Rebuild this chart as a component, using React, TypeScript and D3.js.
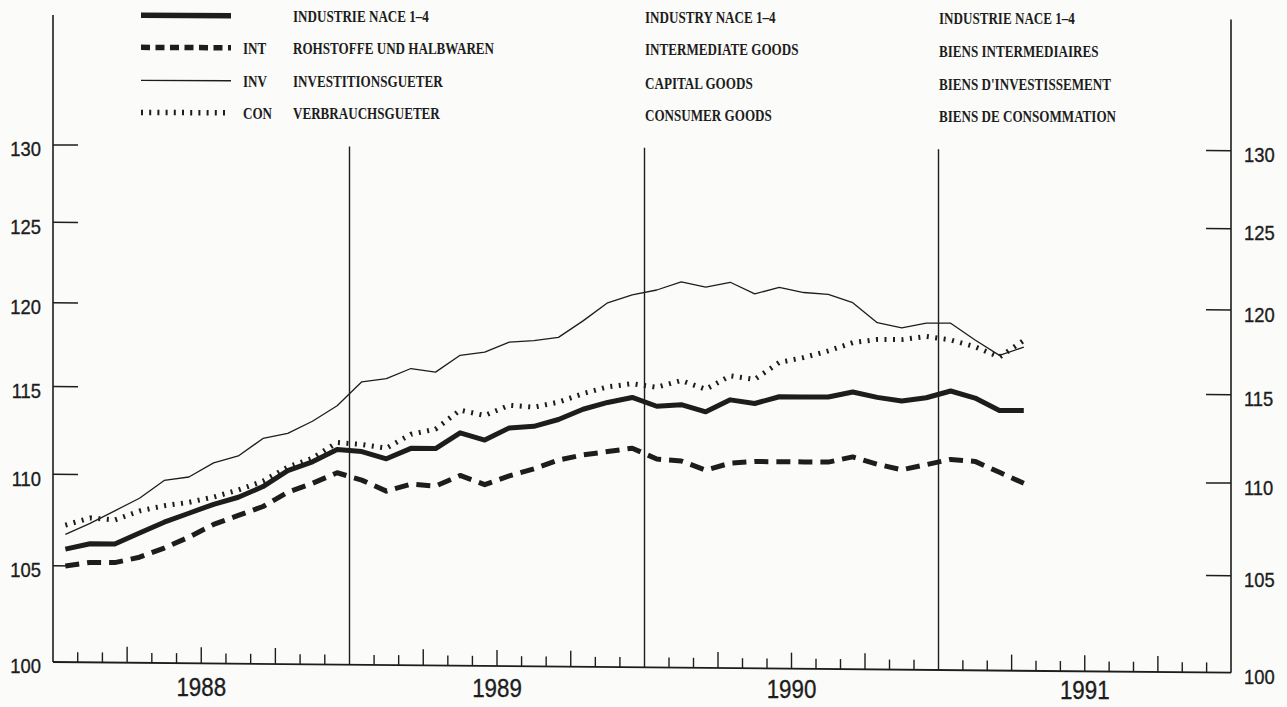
import React, { useEffect, useRef } from 'react';
import * as d3 from 'd3';

// index values, monthly, Jan 1988 .. Apr 1991 (log scale 100..130)
const industrie = [
  105.9, 106.2, 106.2, 106.8, 107.4, 107.9, 108.4, 108.8, 109.4, 110.3, 110.8, 111.5,
  111.4, 111.0, 111.6, 111.6, 112.5, 112.1, 112.8, 112.9, 113.3, 113.9, 114.3, 114.6,
  114.1, 114.2, 113.8, 114.5, 114.3, 114.7, 114.7, 114.7, 115.0, 114.7, 114.5, 114.7,
  115.1, 114.7, 114.0, 114.0,
];
const intermediate = [
  105.0, 105.2, 105.2, 105.5, 106.0, 106.6, 107.3, 107.8, 108.3, 109.1, 109.6, 110.2,
  109.8, 109.2, 109.6, 109.5, 110.1, 109.6, 110.1, 110.5, 111.0, 111.3, 111.5, 111.7,
  111.1, 111.0, 110.5, 110.9, 111.0, 111.0, 111.0, 111.0, 111.3, 110.9, 110.6, 110.9,
  111.2, 111.1, 110.5, 109.9,
];
const capital = [
  106.7, 107.3, 108.0, 108.7, 109.7, 109.9, 110.7, 111.1, 112.1, 112.4, 113.1, 114.0,
  115.4, 115.6, 116.2, 116.0, 117.0, 117.2, 117.8, 117.9, 118.1, 119.1, 120.2, 120.7,
  121.0, 121.5, 121.2, 121.5, 120.8, 121.2, 120.9, 120.8, 120.3, 119.1, 118.8, 119.1,
  119.1, 118.1, 117.2, 117.7,
];
const consumer = [
  107.2, 107.6, 107.5, 108.0, 108.3, 108.5, 108.8, 109.2, 109.7, 110.5, 111.0, 111.9,
  111.8, 111.6, 112.4, 112.7, 113.8, 113.5, 114.1, 114.0, 114.3, 114.8, 115.2, 115.4,
  115.2, 115.6, 115.1, 115.9, 115.7, 116.7, 117.0, 117.4, 117.9, 118.1, 118.1, 118.3,
  118.1, 117.7, 117.1, 118.1,
];

const years = ['1988', '1989', '1990', '1991'];
const yTicks = [100, 105, 110, 115, 120, 125, 130];

const legendCodes = ['', 'INT', 'INV', 'CON'];
const legendDe = ['INDUSTRIE NACE 1–4', 'ROHSTOFFE UND HALBWAREN', 'INVESTITIONSGUETER', 'VERBRAUCHSGUETER'];
const legendEn = ['INDUSTRY NACE 1–4', 'INTERMEDIATE GOODS', 'CAPITAL GOODS', 'CONSUMER GOODS'];
const legendFr = ['INDUSTRIE NACE 1–4', 'BIENS INTERMEDIAIRES', "BIENS D'INVESTISSEMENT", 'BIENS DE CONSOMMATION'];

const App: React.FC = () => {
  const svgRef = useRef<SVGSVGElement>(null);

  useEffect(() => {
    if (!svgRef.current) return;
    const width = 1287;
    const height = 707;
    const ink = '#1d1d1d';

    const svg = d3.select(svgRef.current);
    svg.selectAll('*').remove();
    svg.attr('width', width).attr('height', height);

    const left = 53;
    const right = 1231;
    const top = 15;
    const bottom = 662;

    // months since Jan 1988 -> px (year boundaries)
    const x = d3.scaleLinear().domain([0, 12, 24, 36, 48]).range([left, 349.5, 644.5, 938.5, right]);
    const y = d3.scaleLog().domain([100, 130]).range([bottom, 145]);

    // the scanned page is slightly skewed: the right side sits lower
    const frac = (px: number) => (px - left) / (right - left);
    const warp = (px: number, py: number): [number, number] => [
      px,
      py + frac(px) * (4.3 + 0.00967 * py),
    ];
    const seg = (x1: number, y1: number, x2: number, y2: number) =>
      d3.line()([warp(x1, y1), warp(x2, y2)]);

    svg.append('rect').attr('width', width).attr('height', height).attr('fill', '#fbfbf9');

    /* axes frame */
    const frame = svg.append('g').attr('stroke', ink).attr('fill', 'none');
    frame.append('path').attr('d', seg(left, top, left, bottom)).attr('stroke-width', 1.6);
    frame.append('path').attr('d', seg(right, top, right, bottom)).attr('stroke-width', 1.6);
    frame.append('path').attr('d', seg(left, bottom, right, bottom)).attr('stroke-width', 1.8);

    yTicks.filter(t => t > 100).forEach(t => {
      frame.append('path').attr('d', seg(left, y(t), left + 25, y(t))).attr('stroke-width', 1.5);
      frame.append('path').attr('d', seg(right - 25, y(t), right, y(t))).attr('stroke-width', 1.5);
    });

    d3.range(1, 48).forEach(m => {
      if (m % 12 === 0) {
        frame.append('path').attr('d', seg(x(m), y(130), x(m), bottom)).attr('stroke-width', 1.4);
      } else {
        const len = m % 3 === 0 ? 16 : 10;
        frame.append('path').attr('d', seg(x(m), bottom, x(m), bottom - len)).attr('stroke-width', 1.4);
      }
    });

    /* tick labels */
    const labelFont = "'Liberation Sans', Arial, sans-serif";
    const tickLabel = (t: number, px: number, anchor: string) => {
      const [lx, ly] = warp(px, y(t) + 11.5);
      svg.append('text')
        .attr('transform', `translate(${lx},${ly}) scale(0.92,1)`)
        .attr('text-anchor', anchor)
        .style('font-family', labelFont)
        .style('font-size', '20px')
        .style('fill', ink)
        .style('stroke', ink)
        .style('stroke-width', 0.35)
        .text(t);
    };
    yTicks.forEach(t => {
      tickLabel(t, 41, 'end');
      tickLabel(t, 1244, 'start');
    });

    years.forEach((yr, i) => {
      const tx = x(i * 12 + 6);
      const ty = 696 + frac(tx) * 3.5;
      svg.append('text')
        .attr('transform', `translate(${tx},${ty}) scale(0.86,1)`)
        .attr('text-anchor', 'middle')
        .style('font-family', labelFont)
        .style('font-size', '26px')
        .style('fill', ink)
        .style('stroke', ink)
        .style('stroke-width', 0.35)
        .text(yr);
    });

    /* series */
    const styles = [
      { values: industrie, width: 5, dash: null, legendDash: null },
      { values: intermediate, width: 5, dash: '14,8', legendDash: '9,5.5' },
      { values: capital, width: 1.3, dash: null, legendDash: null },
      { values: consumer, width: 5, dash: '2,6.5', legendDash: '2,6.2' },
    ];

    const lineGen = d3.line().curve(d3.curveLinear);

    styles.forEach(s => {
      const pts = s.values.map((v, i) => warp(x(i + 0.5), y(v)));
      svg.append('path')
        .attr('d', lineGen(pts))
        .attr('fill', 'none')
        .attr('stroke', ink)
        .attr('stroke-width', s.width)
        .attr('stroke-linejoin', 'round')
        .attr('stroke-dasharray', s.dash);
    });

    /* legend */
    const rowY = [15, 47, 80, 112];
    const legendFont = "'Liberation Serif', 'Times New Roman', serif";
    const legendText = (txt: string, px: number, py: number) => {
      const [tx, ty] = warp(px, py + 6);
      svg.append('text')
        .attr('transform', `translate(${tx},${ty}) scale(0.77,1)`)
        .style('font-family', legendFont)
        .style('font-weight', 'bold')
        .style('font-size', '17px')
        .style('fill', ink)
        .text(txt);
    };

    styles.forEach((s, i) => {
      svg.append('path')
        .attr('d', seg(141, rowY[i], 231, rowY[i]))
        .attr('fill', 'none')
        .attr('stroke', ink)
        .attr('stroke-width', s.width === 5 ? 5.5 : s.width)
        .attr('stroke-dasharray', s.legendDash);
      if (legendCodes[i]) legendText(legendCodes[i], 243, rowY[i]);
      legendText(legendDe[i], 293, rowY[i]);
      legendText(legendEn[i], 645, rowY[i]);
      legendText(legendFr[i], 939, rowY[i]);
    });
  }, []);

  return (
    <svg
      ref={svgRef}
      style={{ position: 'absolute', left: 0, top: 0, display: 'block' }}
    />
  );
};

export default App;
